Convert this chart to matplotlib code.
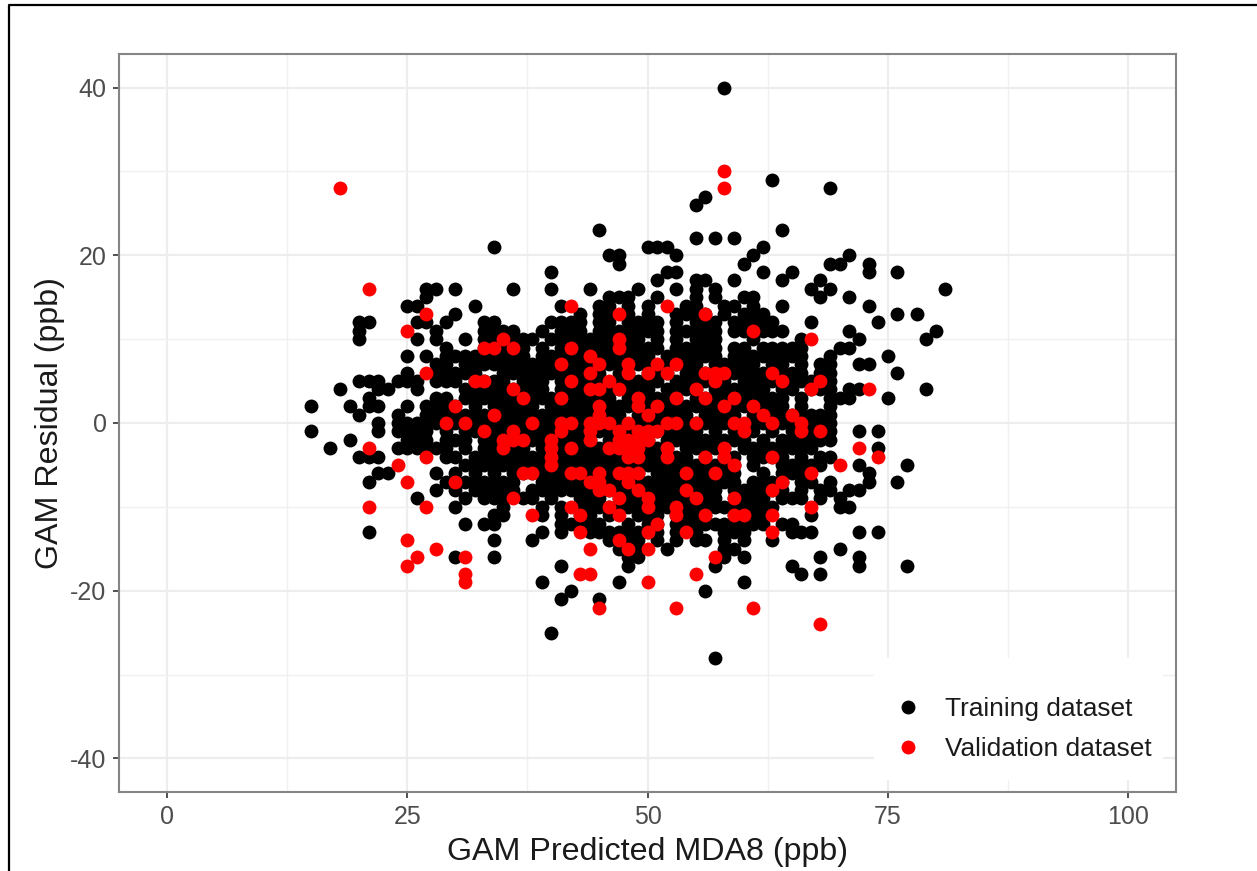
import matplotlib
matplotlib.use("Agg")
import matplotlib.pyplot as plt
from matplotlib.lines import Line2D
from matplotlib.patches import Rectangle

plt.rcParams['font.family'] = ['Liberation Sans', 'DejaVu Sans']
plt.rcParams['axes.unicode_minus'] = False

# Training residual points, by residual value: predicted values at that residual
train_rows = {
 40: [58],
 29: [63],
 28: [69],
 27: [56],
 26: [55],
 23: [45, 64],
 22: [55, 57, 59],
 21: [34, 50, 51, 52, 62],
 20: [46, 47, 53, 61, 71],
 19: [47, 60, 69, 70, 73],
 18: [40, 52, 53, 62, 65, 73, 76],
 17: [51, 55, 56, 59, 64, 68],
 16: [27, 28, 30, 36, 40, 44, 49, 53, 55, 57, 67, 69, 81],
 15: [27, 46, 47, 48, 51, 55, 57, 60, 61, 68, 71],
 14: [25, 26, 32, 41, 45, 46, 48, 50, 54, 55, 58, 59, 61, 64, 73],
 13: [30, 43, 45, 46, 48, 50, 53, 54, 55, 56, 58, 60, 61, 62, 76, 78],
 12: [20, 21, 26, 27, 29, 33, 34, 40, 41, 42, 43, 45, 46, 48, 49, 50, 51, 53, 55, 56, 57, 59, 60, 61, 62, 63, 67, 74],
 11: [20, 28, 33, 34, 35, 36, 39, 41, 42, 43, 45, 46, 47, 48, 49, 50, 51, 53, 54, 55, 56, 57, 59, 60, 62, 63, 64, 71, 80],
 10: [20, 26, 28, 31, 33, 34, 35, 36, 37, 38, 40, 41, 42, 43, 44, 45, 46, 47, 48, 49, 51, 53, 55, 56, 57, 61, 66, 72, 79],
 9: [29, 33, 34, 35, 36, 37, 39, 41, 43, 44, 45, 46, 47, 48, 49, 50, 51, 53, 54, 55, 56, 57, 59, 60, 62, 63, 64, 65, 66, 70, 71],
 8: [25, 27, 29, 30, 31, 32, 33, 34, 35, 36, 37, 39, 40, 41, 42, 43, 44, 45, 46, 47, 48, 49, 50, 52, 53, 54, 55, 56, 57, 59, 60, 61, 62, 63, 64, 65, 66, 69, 75],
 7: [28, 29, 31, 32, 33, 34, 35, 36, 37, 38, 39, 40, 42, 43, 44, 45, 46, 47, 48, 49, 50, 52, 53, 54, 55, 57, 58, 59, 60, 61, 63, 64, 66, 68, 69, 72, 73],
 6: [25, 28, 29, 30, 31, 32, 35, 36, 37, 38, 39, 40, 41, 42, 43, 44, 45, 47, 48, 50, 51, 52, 54, 55, 56, 57, 58, 59, 60, 61, 62, 64, 65, 66, 68, 69, 76],
 5: [20, 21, 22, 24, 25, 26, 28, 29, 30, 32, 33, 34, 35, 37, 38, 39, 41, 42, 43, 44, 45, 47, 48, 49, 50, 51, 53, 54, 55, 56, 57, 58, 60, 61, 62, 63, 64, 65, 66, 67, 69],
 4: [18, 22, 23, 26, 31, 32, 33, 34, 35, 36, 37, 38, 39, 41, 42, 43, 44, 45, 46, 47, 48, 49, 50, 52, 53, 54, 55, 57, 58, 59, 60, 61, 62, 64, 65, 67, 68, 69, 71, 72, 79],
 3: [21, 28, 29, 31, 32, 33, 34, 35, 36, 37, 38, 39, 40, 41, 42, 43, 44, 45, 46, 48, 49, 50, 51, 52, 53, 55, 56, 57, 58, 59, 60, 61, 62, 63, 64, 66, 69, 70, 71, 75],
 2: [15, 19, 21, 22, 25, 27, 28, 29, 30, 32, 34, 35, 36, 37, 38, 40, 41, 42, 43, 44, 45, 46, 47, 48, 50, 51, 52, 53, 54, 55, 56, 57, 58, 59, 60, 62, 63, 64, 66, 69],
 1: [20, 24, 27, 28, 29, 30, 31, 32, 33, 34, 35, 36, 37, 38, 39, 40, 41, 42, 43, 44, 45, 46, 47, 49, 50, 51, 52, 53, 54, 56, 57, 58, 59, 61, 63, 64, 65, 66, 67, 68, 69],
 0: [22, 24, 25, 26, 27, 28, 30, 31, 32, 33, 34, 35, 36, 37, 38, 39, 40, 41, 42, 43, 44, 45, 46, 47, 49, 50, 51, 52, 53, 54, 55, 56, 57, 58, 61, 62, 64, 65, 66, 67, 68, 69],
 -1: [15, 22, 24, 25, 26, 27, 29, 31, 32, 33, 34, 35, 36, 37, 38, 39, 40, 41, 42, 43, 44, 45, 46, 47, 48, 49, 50, 51, 52, 53, 54, 55, 57, 59, 60, 61, 63, 65, 66, 67, 68, 69, 72, 74],
 -2: [19, 25, 26, 27, 29, 30, 31, 33, 34, 35, 36, 37, 38, 39, 40, 41, 42, 43, 44, 46, 47, 48, 49, 50, 52, 53, 54, 55, 56, 57, 58, 59, 60, 62, 64, 65, 66, 67, 68, 69],
 -3: [17, 24, 25, 26, 27, 28, 29, 31, 33, 34, 35, 36, 37, 39, 40, 41, 42, 43, 44, 45, 46, 47, 48, 49, 50, 51, 52, 54, 55, 56, 57, 58, 60, 61, 62, 63, 64, 65, 66, 67, 74],
 -4: [20, 21, 22, 29, 30, 32, 33, 34, 35, 36, 37, 38, 39, 40, 41, 42, 43, 44, 45, 46, 47, 48, 49, 50, 51, 52, 53, 54, 56, 58, 59, 61, 62, 63, 64, 66, 68, 69],
 -5: [31, 32, 33, 34, 35, 36, 37, 38, 39, 40, 41, 42, 43, 44, 45, 46, 47, 48, 49, 50, 51, 52, 53, 54, 55, 56, 57, 58, 59, 61, 64, 65, 66, 67, 68, 72, 77],
 -6: [22, 23, 28, 30, 32, 34, 36, 37, 38, 39, 40, 41, 42, 43, 44, 45, 46, 47, 48, 49, 51, 52, 53, 54, 55, 56, 57, 58, 59, 62, 64, 65, 66, 73],
 -7: [21, 29, 31, 32, 33, 34, 35, 36, 39, 40, 41, 42, 43, 44, 45, 46, 47, 48, 49, 50, 51, 52, 53, 54, 55, 56, 57, 58, 59, 61, 62, 63, 64, 66, 67, 69, 73, 76],
 -8: [28, 30, 32, 33, 34, 35, 36, 38, 39, 40, 41, 42, 43, 44, 45, 46, 47, 48, 49, 50, 51, 52, 53, 54, 55, 56, 57, 59, 60, 61, 62, 63, 64, 66, 68, 69, 71, 72],
 -9: [26, 31, 33, 34, 35, 37, 38, 40, 43, 44, 45, 47, 48, 49, 50, 51, 52, 53, 54, 55, 56, 57, 59, 60, 61, 62, 64, 65, 66, 68, 70],
 -10: [30, 35, 39, 41, 43, 44, 45, 46, 47, 48, 49, 50, 51, 52, 53, 54, 55, 56, 57, 58, 59, 60, 61, 62, 63, 70, 71],
 -11: [34, 35, 39, 41, 43, 44, 46, 49, 50, 51, 53, 54, 55, 56, 59, 61, 62, 67],
 -12: [31, 33, 34, 41, 42, 43, 44, 45, 48, 50, 51, 53, 54, 55, 56, 57, 58, 59, 60, 61, 62, 64, 65],
 -13: [21, 39, 41, 44, 45, 46, 47, 48, 49, 50, 51, 53, 55, 58, 59, 60, 65, 66, 67, 72, 74],
 -14: [34, 38, 46, 48, 49, 51, 53, 55, 56, 58, 60, 63],
 -15: [47, 48, 49, 52, 58, 59, 70],
 -16: [30, 34, 48, 49, 58, 60, 68, 72],
 -17: [41, 48, 57, 65, 72, 77],
 -18: [66, 68],
 -19: [39, 47, 60],
 -20: [42, 56],
 -21: [41, 45],
 -25: [40],
 -28: [57],
}

# Validation residual points, by residual value
valid_rows = {
 30: [58],
 28: [18, 58],
 16: [21],
 14: [42, 52],
 13: [27, 47, 56],
 11: [25, 61],
 10: [35, 47, 67],
 9: [33, 34, 36, 42, 47],
 8: [44],
 7: [41, 45, 48, 51, 53],
 6: [27, 44, 48, 50, 52, 56, 57, 58, 63],
 5: [32, 33, 42, 46, 57, 64, 68],
 4: [36, 44, 45, 47, 55, 67, 73],
 3: [37, 41, 49, 53, 56, 59],
 2: [30, 45, 49, 51, 58, 61],
 1: [34, 45, 50, 62, 65],
 0: [29, 31, 38, 41, 42, 44, 45, 46, 48, 52, 53, 55, 59, 60, 63, 66],
 -1: [33, 36, 41, 44, 47, 49, 50, 51, 60, 66, 68],
 -2: [35, 36, 37, 40, 44, 47, 48, 49, 50],
 -3: [21, 35, 40, 42, 46, 47, 48, 49, 52, 58, 72],
 -4: [27, 40, 48, 49, 52, 56, 58, 63, 74],
 -5: [24, 40, 59, 70],
 -6: [37, 38, 42, 43, 45, 47, 48, 49, 54, 57, 67],
 -7: [25, 30, 44, 45, 48, 64],
 -8: [45, 46, 49, 54, 63],
 -9: [36, 47, 50, 55, 59],
 -10: [21, 27, 42, 46, 50, 53, 67],
 -11: [38, 43, 47, 53, 56, 59, 60, 63],
 -12: [51],
 -13: [43, 50, 54, 63],
 -14: [25, 47],
 -15: [28, 44, 48, 50],
 -16: [26, 31, 57],
 -17: [25],
 -18: [31, 43, 44, 55],
 -19: [31, 50],
 -22: [45, 53, 61],
 -24: [68],
}

x_ticks = [0, 25, 50, 75, 100]
x_minor = [12.5, 37.5, 62.5, 87.5]
y_ticks = [-40, -20, 0, 20, 40]
y_minor = [-30, -10, 10, 30]
x_label = "GAM Predicted MDA8 (ppb)"
y_label = "GAM Residual (ppb)"
legend_labels = ["Training dataset", "Validation dataset"]


def flatten(rows):
    xs, ys = [], []
    for y, row in rows.items():
        xs.extend(row)
        ys.extend([y] * len(row))
    return xs, ys


W, H = 1257, 871
AX_L, AX_R, AX_T, AX_B = 119, 1176, 54, 792
fig = plt.figure(figsize=(W / 100, H / 100), dpi=100)
ax = fig.add_axes([AX_L / W, 1 - AX_B / H, (AX_R - AX_L) / W, (AX_B - AX_T) / H])
ax.set_xlim(-5, 105)
ax.set_ylim(-44, 44)

ax.set_axisbelow(True)
ax.set_xticks(x_ticks)
ax.set_yticks(y_ticks)
ax.set_xticks(x_minor, minor=True)
ax.set_yticks(y_minor, minor=True)
ax.grid(True, which='major', color='#EDEDED', lw=1.6)
ax.grid(True, which='minor', color='#F0F0F0', lw=1.0)
ax.tick_params(which='minor', length=0)
ax.tick_params(which='major', length=4, width=1.2, color='#333333',
               labelsize=18, labelcolor='#4D4D4D', pad=5)
for s in ax.spines.values():
    s.set_color('#858585')
    s.set_linewidth(1.5)

tx, ty = flatten(train_rows)
vx, vy = flatten(valid_rows)
ax.scatter(tx, ty, s=100, c='black', linewidths=0, zorder=3)
ax.scatter(vx, vy, s=100, c='#FF0000', linewidths=0, zorder=4)

ax.set_xlabel(x_label, fontsize=23.2, color='#1a1a1a', labelpad=6)
ax.set_ylabel(y_label, fontsize=23.2, color='#1a1a1a', labelpad=4)

# white key background, in axes fractions
box_l = (874 - AX_L) / (AX_R - AX_L)
box_r = (1163 - AX_L) / (AX_R - AX_L)
box_b = (AX_B - 780) / (AX_B - AX_T)
box_t = (AX_B - 658) / (AX_B - AX_T)
ax.add_patch(Rectangle((box_l, box_b), box_r - box_l, box_t - box_b, transform=ax.transAxes,
                       fc='white', ec='none', zorder=2.5))

handles = [Line2D([], [], ls='', marker='o', ms=10, mfc='black', mec='none'),
           Line2D([], [], ls='', marker='o', ms=10, mfc='#FF0000', mec='none')]
leg = ax.legend(handles, legend_labels, loc='lower left',
                bbox_to_anchor=(box_l, box_b - 10 / (AX_B - AX_T)),
                borderaxespad=0, fontsize=18.9, frameon=False,
                labelspacing=0.62, handletextpad=1.23, borderpad=1.1,
                handlelength=0.38, labelcolor='#1a1a1a')
leg.set_zorder(5)

# outer frame of the source figure
fig.add_artist(Line2D([9.0 / W, 9.0 / W, 1.0], [0, 1 - 5.5 / H, 1 - 5.5 / H],
                      color='black', lw=1.6))

fig.savefig("out.png", dpi=100)
